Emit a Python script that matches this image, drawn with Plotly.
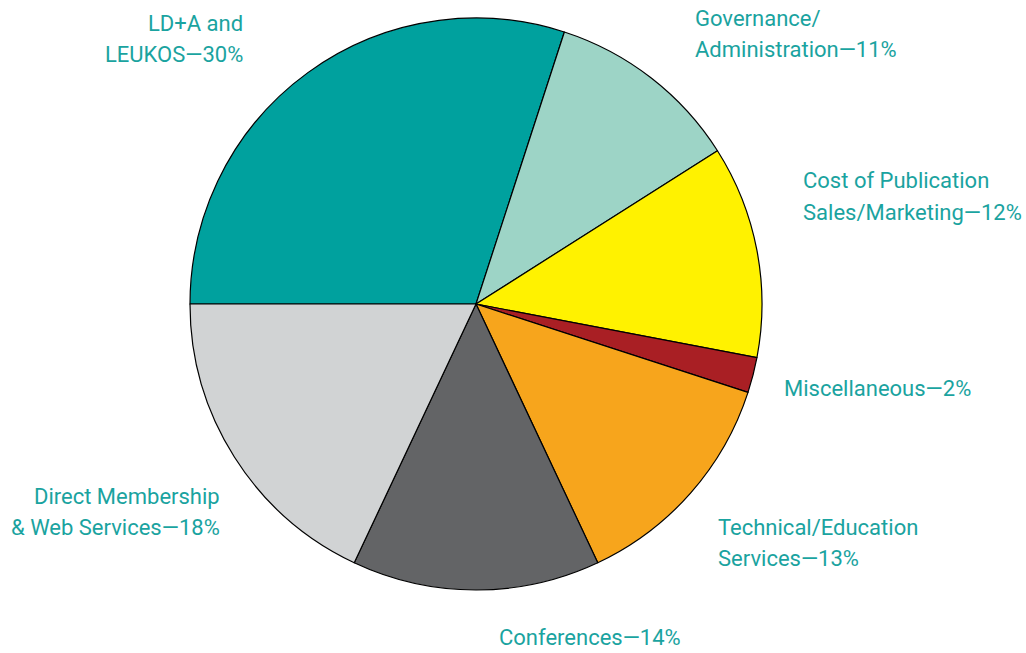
import plotly.graph_objects as go

categories = ["LD+A and LEUKOS", "Governance/ Administration", "Cost of Publication Sales/Marketing",
              "Miscellaneous", "Technical/Education Services", "Conferences",
              "Direct Membership & Web Services"]
values = [30, 11, 12, 2, 13, 14, 18]
label_lines = [
    ["LD+A and", "LEUKOS—{v}%"],
    ["Governance/", "Administration—{v}%"],
    ["Cost of Publication", "Sales/Marketing—{v}%"],
    ["Miscellaneous—{v}%"],
    ["Technical/Education", "Services—{v}%"],
    ["Conferences—{v}%"],
    ["Direct Membership", "&amp; Web Services—{v}%"],
]
colors = ["#00A19E", "#9DD4C6", "#FFF200", "#A91F24", "#F7A51C", "#636466", "#D1D3D4"]

W, H = 1026, 653
LINE = 31
# label anchor positions in pixels (x, y centre of first line), alignment
label_pos = [
    (245, 24, "right"),
    (693, 18, "left"),
    (801, 181, "left"),
    (782, 388, "left"),
    (716, 527, "left"),
    (497, 637, "left"),
    (222, 496, "right"),
]

fig = go.Figure(go.Pie(
    labels=categories, values=values, sort=False, direction="clockwise",
    rotation=270, marker=dict(colors=colors, line=dict(color="#000000", width=1.2)),
    textinfo="none", hoverinfo="label+percent",
    domain=dict(x=[190 / W, 762 / W], y=[(H - 590) / H, (H - 18) / H]),
))

teal = "#1AA3A0"
for lines, v, (px, py, al) in zip(label_lines, values, label_pos):
    for i, l in enumerate(lines):
        fig.add_annotation(
            x=px / W, y=1 - (py + i * LINE) / H, xref="paper", yref="paper",
            text=l.format(v=v), showarrow=False, xanchor=al, yanchor="middle", align=al,
            font=dict(family="Roboto, sans-serif", size=22, color=teal),
        )

fig.update_layout(
    width=W, height=H, margin=dict(l=0, r=0, t=0, b=0),
    paper_bgcolor="white", plot_bgcolor="white", showlegend=False,
)
fig.write_html("out.html", config={"displayModeBar": False},
               post_script="document.body.style.margin='0';")
